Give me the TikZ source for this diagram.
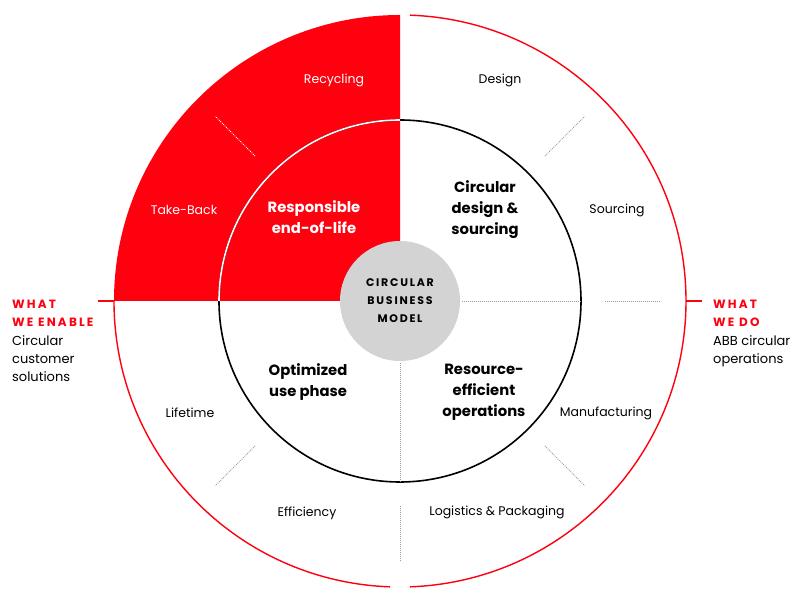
\documentclass[tikz,border=0pt]{standalone}
\usepackage{fontspec}
\setmainfont{Poppins}
\usepackage{xcolor}
\usetikzlibrary{positioning}
\definecolor{abbred}{HTML}{FF000F}
\definecolor{hubgray}{HTML}{D3D3D3}
\definecolor{dotgray}{HTML}{9A9A9A}
\newcommand{\headfont}{\color{abbred}\bfseries\fontsize{12}{18.3}\selectfont\addfontfeature{LetterSpace=18}}

\begin{document}
\begin{tikzpicture}[
  x=1pt, y=1pt,
  lbl/.style={align=center, inner sep=0pt, font=\fontsize{12.5}{15}\selectfont},
  phase/.style={align=center, inner sep=0pt, font=\fontsize{14.8}{21}\selectfont\bfseries},
  hub/.style={circle, fill=hubgray, minimum size=120pt, inner sep=0pt, align=center,
    font=\fontsize{11}{18}\selectfont\bfseries\addfontfeature{LetterSpace=16}},
  side/.style={align=left, inner sep=0pt, font=\fontsize{13}{18.3}\selectfont},
  sep/.style={dotgray, line width=0.9pt, dash pattern=on 0.9pt off 1.1pt},
  ring/.style={abbred, line width=1.4pt}
]
\useasboundingbox (-400,-303) rectangle (400,301);

% red quarter: responsible end-of-life
\fill[abbred] (0,0) -- (180:286) arc[start angle=180, end angle=90, radius=286] -- cycle;

% outer ring, open at top and bottom
\draw[ring] (88:286) arc[start angle=88, end angle=-88, radius=286];
\draw[ring] (-92:286) arc[start angle=-92, end angle=-180, radius=286];
\draw[ring] (180:286) -- (180:302);
\draw[ring] (0:286) -- (0:302);

% inner ring
\draw[line width=1.6pt] (0,0) circle[radius=181];
\draw[white, line width=1.6pt] (180:181) arc[start angle=180, end angle=90, radius=181];

% separators
\foreach \a in {0,45,225,270,315}
  \draw[sep] (\a:205) -- (\a:261);
\draw[sep, white] (135:205) -- (135:261);
\foreach \a in {0,270}
  \draw[sep] (\a:62) -- (\a:181);

\node[hub] (hub) at (0,0) {CIRCULAR\\BUSINESS\\MODEL};

% quadrants
\node[phase, text=white] (endlife) at (-86,84) {Responsible\\end-of-life};
\node[phase] (design) at (85,91) {Circular\\design \&\\sourcing};
\node[phase] (useph) at (-92,-81) {Optimized\\use phase};
\node[phase] (resource) at (84,-91) {Resource-\\efficient\\operations};

% steps round the ring
\node[lbl, text=white] (recycling) at (-66,221) {Recycling};
\node[lbl, text=white] (takeback) at (-216,91) {Take-Back};
\node[lbl] (designstep) at (100,221) {Design};
\node[lbl] (sourcing) at (217,91) {Sourcing};
\node[lbl] (manufacturing) at (206,-112) {Manufacturing};
\node[lbl] (logistics) at (97,-211) {Logistics \& Packaging};
\node[lbl] (efficiency) at (-93,-212) {Efficiency};
\node[lbl] (lifetime) at (-210,-112) {Lifetime};

% side notes
\node[side, anchor=north west] (enable) at (-388,1)
  {{\headfont WHAT}\\{\headfont WE ENABLE}\\Circular\\customer\\solutions};
\node[side, anchor=north west] (wedo) at (313,1)
  {{\headfont WHAT}\\{\headfont WE DO}\\ABB circular\\operations};
\end{tikzpicture}
\end{document}
